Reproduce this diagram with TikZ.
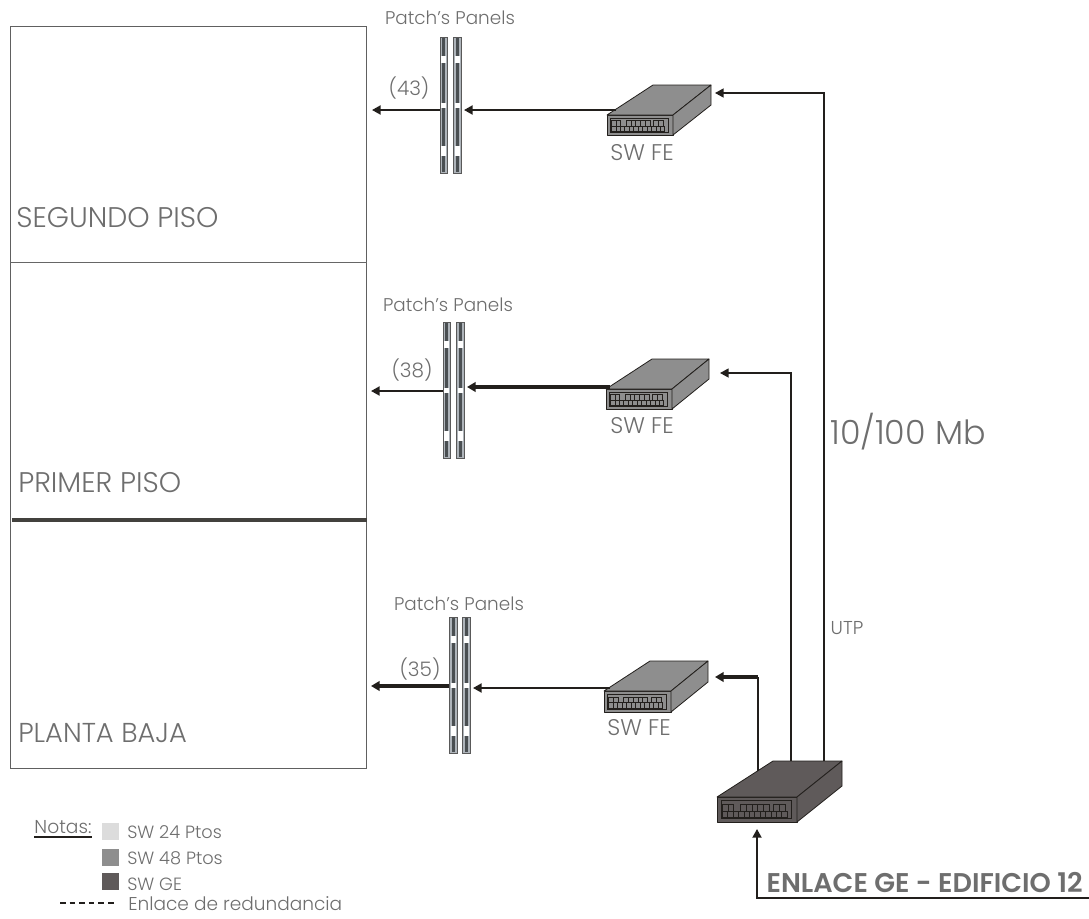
\documentclass[tikz,border=0pt]{standalone}
\usepackage{fontspec}
\setmainfont{Poppins}[UprightFont=* Light,BoldFont=* SemiBold]
\usetikzlibrary{arrows.meta}
\definecolor{txt}{HTML}{6E6E6E}
\definecolor{ink}{HTML}{221F1C}
\definecolor{swmid}{HTML}{8E8E8E}
\definecolor{swdark}{HTML}{5F5A5A}
\definecolor{swlight}{HTML}{DCDCDC}
\definecolor{slot}{HTML}{4A4F52}
\definecolor{stripbody}{HTML}{AEB4BA}
\tikzset{
  x=0.75pt,y=-0.75pt,
  lbl/.style={text=txt,inner sep=0pt,font=\fontsize{#1}{#1}\selectfont},
  conn/.style={draw=ink,line width=1.1pt},
  arr/.style={draw=ink,line width=1.4pt,-{Triangle[length=6.5pt,width=6.8pt]}},
  arrthick/.style={draw=ink,line width=2.6pt,-{Triangle[length=6.5pt,width=7.2pt]}},
  swface/.style={draw=ink,line width=0.6pt,line join=round},
  key/.style={minimum width=12.5pt,minimum height=12.5pt,inner sep=0pt},
  strip/.style={draw=gray!70!black,fill=stripbody,line width=0.5pt,minimum width=#1,minimum height=102pt,inner sep=0pt}
}
% name, x, y of front-top-left, width, height, right-back dx, dy, top-left dx, fill
\newcommand{\swunit}[9]{%
  \node[swface,fill=#9,minimum width=#4*0.75pt,minimum height=#5*0.75pt,inner sep=0pt,anchor=north west] (#1) at (#2,#3) {};
  \pgfmathsetmacro{\sxx}{#4/66}\pgfmathsetmacro{\syy}{#5/20}
  \begin{scope}[shift={(#2,#3)}]
    \draw[swface,fill=#9] (0,0) -- (#8,-#7) -- (#4+#6,-#7) -- (#4,0) -- cycle;
    \draw[swface,fill=#9] (#4,0) -- (#4+#6,-#7) -- (#4+#6,#5-#7) -- (#4,#5) -- cycle;
    \begin{scope}[xscale=\sxx,yscale=\syy]
      \draw[line width=0.5pt,draw=ink] (3.3,3) rectangle (61,17);
      \foreach \a/\n in {4.3/2,19.3/5,46.7/2}{
        \foreach \i in {1,...,\n}{\draw[line width=0.35pt,draw=ink] ({\a+(\i-1)*4.7},5.7) rectangle ({\a+\i*4.7},11);}
      }
      \foreach \i in {1,...,12}{\draw[line width=0.35pt,draw=ink] ({4.3+(\i-1)*4.45},11) rectangle ({4.3+\i*4.45},16.5);}
    \end{scope}
  \end{scope}
}
% name, left x, top y, strip widths
\newcommand{\ppstrip}[4]{%
  \node[strip=#4*0.75pt,anchor=north west] (#1) at (#2,#3) {};
  \begin{scope}[shift={(#2,#3)}]
    \foreach \p/\q in {1/19,26/66,71/109,119/135}{
      \fill[slot] ({#4/2-1.5},\p) rectangle ({#4/2+1.5},\q);
    }
    \foreach \p/\q in {19/26,66/71,109/119}{
      \fill[white] ({#4/2-2.5},\p) rectangle ({#4/2+2.5},\q);
    }
  \end{scope}
}
\begin{document}
\begin{tikzpicture}
\useasboundingbox (0,0) rectangle (1089,918);
% building
\node[draw=gray!75!black,line width=1pt,minimum width=267pt,minimum height=556.5pt,inner sep=0pt,anchor=north west] (edif) at (10,26) {};
\draw[draw=gray!80!black,line width=0.6pt] (edif.west |- 0,262) -- (edif.east |- 0,262);
\draw[draw=ink!85,line width=3pt] (12,520) -- (edif.east |- 0,520);
\node[lbl=21.3,anchor=west] (t1) at (16,218) {SEGUNDO PISO};
\node[lbl=21.3,anchor=west] (t2) at (18,483) {PRIMER PISO};
\node[lbl=20.5,anchor=west] (t3) at (18,733) {PLANTA BAJA};
% panels
\ppstrip{p1l}{440}{37}{7}\ppstrip{p1r}{453}{37}{8}
\ppstrip{p2l}{443}{322}{7}\ppstrip{p2r}{456}{322}{8}
\ppstrip{p3l}{449}{617}{8}\ppstrip{p3r}{462}{617}{8}
\node[lbl=13.8] (pt1) at (450,18) {Patch's Panels};
\node[lbl=13.8] (pt2) at (448,305) {Patch's Panels};
\node[lbl=13.8] (pt3) at (459,604) {Patch's Panels};
\node[lbl=15] (n1) at (409,88) {(43)};
\node[lbl=15] (n2) at (412,370) {(38)};
\node[lbl=15] (n3) at (420,669) {(35)};
% switches
\swunit{sw1}{607}{115}{66}{20}{38}{30}{46}{swmid}
\swunit{sw2}{606}{389}{66}{20}{37}{30}{46}{swmid}
\swunit{sw3}{604}{691}{67}{21}{37}{30}{46}{swmid}
\swunit{ge}{717}{797}{80}{25}{45}{36}{56}{swdark}
\node[lbl=17] (sf1) at (642,153) {SW FE};
\node[lbl=17] (sf2) at (642,426) {SW FE};
\node[lbl=17] (sf3) at (639,728) {SW FE};
% connector ends
\coordinate (a1) at (372,110);\coordinate (a2) at (464,110);\coordinate (a3) at (616,110);
\coordinate (b1) at (371,391);\coordinate (b2) at (467,387);\coordinate (b3) at (610,387);
\coordinate (c1) at (371,686);\coordinate (c2) at (473,688);\coordinate (c3) at (610,688);
\coordinate (u1) at (715,93);\coordinate (u1a) at (824,93);\coordinate (u1b) at (824,761);
\coordinate (u2) at (720,373);\coordinate (u2a) at (791,373);\coordinate (u2b) at (791,761);
\coordinate (u3) at (715,677);\coordinate (u3a) at (758,677);\coordinate (u3b) at (758,771);
\coordinate (g1) at (757,829);\coordinate (g2) at (757,898);\coordinate (g3) at (1089,898);
\draw[arr] (p1l.west |- a1) -- (a1);
\draw[arr] (a3) -- (a2);
\draw[arr] (p2l.west |- b1) -- (b1);
\draw[arrthick] (b3) -- (b2);
\draw[arrthick] (p3l.west |- c1) -- (c1);
\draw[arr] (c3) -- (c2);
\draw[arr,line width=1.1pt] (u1b) -- (u1a) -- (u1);
\draw[arr,line width=1.1pt] (u2b) -- (u2a) -- (u2);
\draw[conn] (u3b) -- (u3a);
\draw[arrthick] (u3a) -- (u3);
\draw[arr,line width=1.2pt] (g3) -- (g2) -- (g1);
% labels
\node[lbl=25] (v) at (908,432) {10/100 Mb};
\node[lbl=14] (utp) at (847,628) {UTP};
\node[lbl=20,font=\fontsize{20.3}{20.3}\selectfont\bfseries,anchor=east] (enl) at (1083,882) {ENLACE GE - EDIFICIO 12};
% legend
\node[lbl=14] (nt) at (63,827) {Notas:};
\draw[draw=ink,line width=0.8pt] (34,837) -- (92,837);
\node[key,fill=swlight,anchor=north west] (k1) at (102,823) {};
\node[key,fill=swmid,anchor=north west] (k2) at (102,849) {};
\node[key,fill=swdark,anchor=north west] (k3) at (102,873) {};
\node[lbl=13.3,anchor=west] (kt1) at (127,832) {SW 24 Ptos};
\node[lbl=13.3,anchor=west] (kt2) at (127,858) {SW 48 Ptos};
\node[lbl=13.3,anchor=west] (kt3) at (127,884) {SW GE};
\node[lbl=13.9,anchor=west] (kt4) at (128,904) {Enlace de redundancia};
\draw[draw=ink,line width=0.8pt,dash pattern=on 4.2pt off 3pt] (60,903) -- (115,903);
\end{tikzpicture}
\end{document}
